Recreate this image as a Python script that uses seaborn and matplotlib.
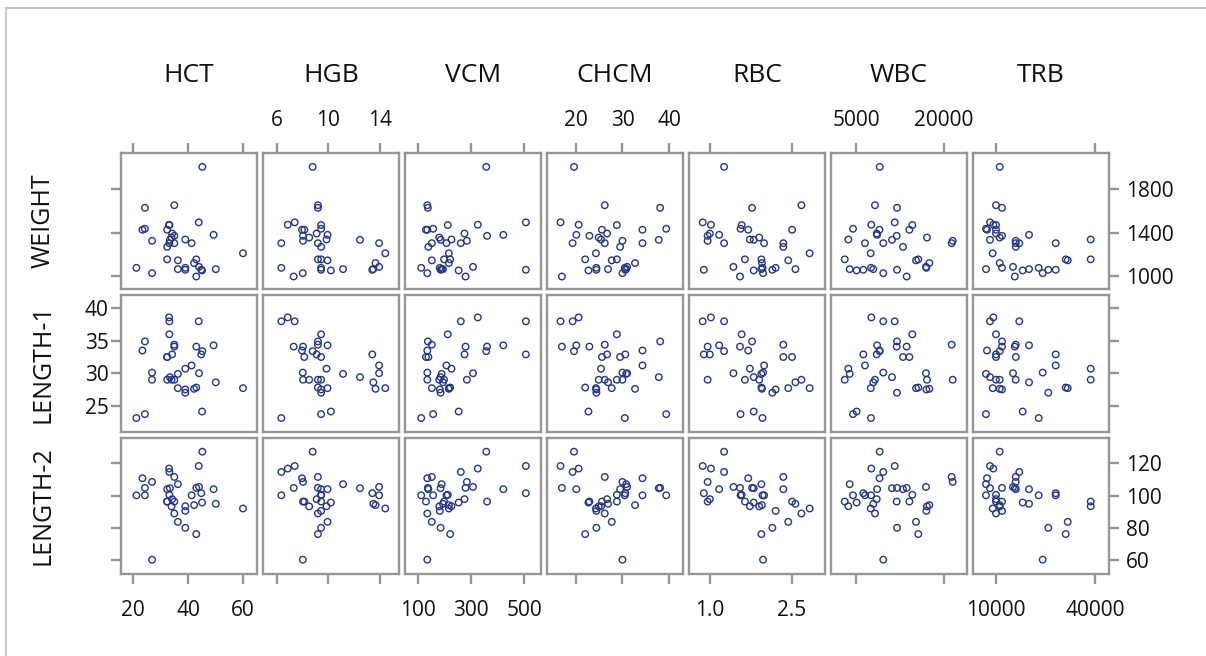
import matplotlib
matplotlib.use("Agg")
import matplotlib.pyplot as plt
from matplotlib.lines import Line2D
import pandas as pd
import seaborn as sns

# one value per observation, same order in every list
HCT = [21.2, 23.4, 24.3, 24.3, 26.9, 26.9, 33.2, 33.1, 43.9, 43.0, 43.0, 44.0, 35.0, 32.4, 34.0, 45.2, 49.3, 39.0,
       36.3, 36.3, 45.1, 44.8, 33.4, 50.1, 42.2, 41.3, 60.0, 35.0, 35.0, 39.0, 39.0, 34.2, 32.4, 32.4, 33.2]
HGB = [6.33, 7.94, 9.18, 9.43, 8.02, 8.0, 6.33, 6.83, 7.37, 7.29, 9.18, 13.95, 8.02, 8.12, 8.50, 8.77, 9.93, 9.85,
       9.93, 11.14, 10.19, 13.42, 12.46, 13.5, 13.67, 13.95, 14.43, 9.18, 9.18, 9.43, 9.43, 9.08, 9.43, 9.43, 9.43]
VCM = [112, 135, 137, 157, 284, 135, 261, 325, 506, 279, 221, 307, 360, 130, 180, 357, 421, 226,
       152, 189, 253, 506, 185, 194, 216, 207, 216, 135, 152, 182, 185, 275, 139, 198, 212]
CHCM = [30.5, 34.3, 38.1, 39.4, 30.0, 30.0, 19.3, 20.6, 16.7, 17.0, 22.0, 31.0, 22.9, 25.6, 24.9, 19.6, 20.1, 25.4,
        27.7, 30.8, 22.7, 30.6, 37.8, 26.9, 32.7, 34.3, 24.3, 26.2, 26.2, 24.4, 24.4, 26.7, 29.5, 28.8, 28.8]
RBC = [1.96, 1.70, 1.77, 1.56, 0.96, 1.97, 1.26, 1.02, 0.87, 1.55, 1.94, 1.43, 0.96, 2.50, 1.90, 1.26, 1.17, 1.73,
       2.43, 1.94, 1.80, 0.89, 1.80, 2.56, 1.95, 1.99, 2.82, 2.67, 2.34, 2.20, 2.14, 1.00, 2.34, 1.64, 1.58]
WBC = [7560, 9000, 11990, 4490, 21480, 9650, 9650, 7610, 11600, 13640, 15620, 16930, 11940, 14100, 17100, 9040,
       8600, 3690, 15230, 3930, 5110, 6250, 11140, 7950, 17500, 6530, 7510, 8240, 21310, 17000, 11990, 8530,
       13010, 3080, 14600]
TRB = [22940, 7270, 11820, 6970, 15970, 24150, 17060, 9190, 8180, 15700, 31120, 15150, 11820, 10000, 11120,
       11120, 20000, 38700, 31730, 6970, 18090, 28090, 8180, 20000, 11120, 28090, 9000, 10000, 15970, 11820,
       25850, 10000, 16000, 38700, 10000]
WEIGHT = [1077, 1428, 1630, 1437, 1326, 1028, 1304, 1474, 1496, 997, 1155, 1086, 1372, 1428, 1356, 2007, 1381, 1338,
          1146, 1065, 1053, 1059, 1335, 1065, 1121, 1304, 1211, 1654, 1304, 1077, 1059, 1393, 1270, 1155, 1471]
LENGTH1 = [23.1, 33.5, 34.9, 23.7, 29.0, 30.1, 38.0, 38.6, 38.0, 34.1, 27.8, 30.0, 34.1, 32.5, 29.0, 33.4, 34.3, 30.7,
           27.7, 29.9, 24.1, 32.9, 29.4, 28.6, 27.6, 31.2, 27.7, 29.0, 34.4, 27.5, 27.0, 32.9, 32.5, 29.0, 36.0]
LENGTH2 = [100.2, 110.8, 104.8, 100.2, 108.5, 60.2, 114.7, 116.8, 118.4, 104.8, 76.1, 105.4, 96.3, 96.3, 93.3, 127.3,
           104.0, 93.4, 83.7, 107.1, 95.7, 101.5, 104.6, 94.9, 94.1, 100.2, 92.0, 88.9, 111.6, 90.5, 80.0, 97.8,
           104.0, 96.3, 100.5]

x_vars = ['HCT', 'HGB', 'VCM', 'CHCM', 'RBC', 'WBC', 'TRB']
y_vars = ['WEIGHT', 'LENGTH-1', 'LENGTH-2']

x_ticks = {
    'HCT': [20, 40, 60], 'HGB': [6, 10, 14], 'VCM': [100, 300, 500], 'CHCM': [20, 30, 40],
    'RBC': [1.0, 2.5], 'WBC': [5000, 20000], 'TRB': [10000, 40000],
}
x_ticklabels = {'RBC': ['1.0', '2.5']}
x_lims = {
    'HCT': (15.6, 65.1), 'HGB': (4.9, 15.5), 'VCM': (51, 563), 'CHCM': (13.8, 43.0),
    'RBC': (0.62, 3.1), 'WBC': (740, 23920), 'TRB': (3030, 44240),
}
y_ticks = {'WEIGHT': [1000, 1400, 1800], 'LENGTH-1': [25, 30, 35, 40], 'LENGTH-2': [60, 80, 100, 120]}
y_lims = {'WEIGHT': (879, 2135), 'LENGTH-1': (21.0, 42.0), 'LENGTH-2': (51.3, 136.0)}

plt.rcParams['font.family'] = ['Open Sans', 'DejaVu Sans']

df = pd.DataFrame({
    'HCT': HCT, 'HGB': HGB, 'VCM': VCM, 'CHCM': CHCM, 'RBC': RBC, 'WBC': WBC, 'TRB': TRB,
    'WEIGHT': WEIGHT, 'LENGTH-1': LENGTH1, 'LENGTH-2': LENGTH2,
})

navy = '#24378a'
frame = '#969696'

g = sns.PairGrid(df, x_vars=x_vars, y_vars=y_vars, height=1.36, aspect=1, despine=False)
g.map(sns.scatterplot, s=22, color=navy, facecolor='none', edgecolor=navy, linewidth=1.0)

fig = g.figure
fig.set_size_inches(12.06, 6.56)
W, H = 1206, 656
fig.subplots_adjust(left=121 / W, right=1109 / W, top=1 - 153 / H, bottom=1 - 574 / H,
                    wspace=6 / 136, hspace=6 / 136)

for i, yv in enumerate(y_vars):
    for j, xv in enumerate(x_vars):
        ax = g.axes[i, j]
        ax.set_xlabel('')
        ax.set_ylabel('')
        ax.set_xlim(*x_lims[xv])
        ax.set_ylim(*y_lims[yv])
        ax.set_xticks(x_ticks[xv], x_ticklabels.get(xv, [str(t) for t in x_ticks[xv]]))
        ax.set_yticks(y_ticks[yv], [str(t) for t in y_ticks[yv]])
        for sp in ax.spines.values():
            sp.set_color(frame)
            sp.set_linewidth(1.7)
        ax.tick_params(axis='both', which='both', color=frame, width=1.7, length=7,
                       labelsize=15, labelcolor='#111111',
                       top=False, bottom=False, left=False, right=False,
                       labeltop=False, labelbottom=False, labelleft=False, labelright=False)
        if i == 0:
            ax.tick_params(axis='x', top=True, labeltop=(j % 2 == 1), pad=9)
        if i == len(y_vars) - 1:
            ax.tick_params(axis='x', bottom=True, labelbottom=(j % 2 == 0), pad=12)
        if j == 0:
            ax.tick_params(axis='y', left=True, labelleft=(i == 1), pad=2)
        if j == len(x_vars) - 1:
            ax.tick_params(axis='y', right=True, labelright=(i != 1), pad=5)

# column headers and row labels
for j, xv in enumerate(x_vars):
    bb = g.axes[0, j].get_position()
    fig.text((bb.x0 + bb.x1) / 2, 1 - 76 / H, xv, ha='center', va='center', fontsize=19, color='#111111')
for i, yv in enumerate(y_vars):
    bb = g.axes[i, 0].get_position()
    fig.text(43 / W, (bb.y0 + bb.y1) / 2, yv, ha='center', va='center', rotation=90,
             fontsize=18, color='#111111')

# thin outer border (top and left only visible)
fig.add_artist(Line2D([6 / W, 6 / W], [0, 1 - 8 / H], transform=fig.transFigure, color='#c8c8c8', lw=1.5))
fig.add_artist(Line2D([6 / W, 1], [1 - 8 / H, 1 - 8 / H], transform=fig.transFigure, color='#c8c8c8', lw=1.5))

fig.savefig('out.png', dpi=100, facecolor='white')
